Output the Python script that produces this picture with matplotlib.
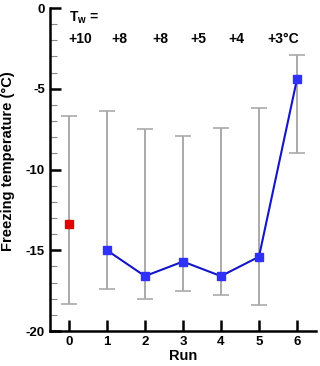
import numpy as np
import matplotlib.pyplot as plt
from matplotlib.ticker import MultipleLocator

plt.rcParams['font.family'] = ['Liberation Sans', 'DejaVu Sans']
plt.rcParams['font.weight'] = 'bold'
plt.rcParams['axes.unicode_minus'] = False

runs = [0, 1, 2, 3, 4, 5, 6]
temp = [-13.4, -15.0, -16.6, -15.7, -16.6, -15.4, -4.4]
upper = [-6.7, -6.4, -7.5, -7.9, -7.4, -6.2, -2.9]
lower = [-18.3, -17.4, -18.0, -17.5, -17.8, -18.4, -9.0]
tw_labels = ['+10', '+8', '+8', '+5', '+4', '+3°C']
tw_pos = [0.30, 1.33, 2.40, 3.40, 4.40, 5.64]

temp = np.array(temp)
yerr = [temp - np.array(lower), np.array(upper) - temp]

fig = plt.figure(figsize=(3.2, 3.66), dpi=100)
ax = fig.add_axes([0.156, 0.0956, 0.8315, 0.8824])

ax.errorbar(runs, temp, yerr=yerr, fmt='none', ecolor='#aaaaaa', elinewidth=1.4,
            capsize=6, capthick=1.2, zorder=1)
ax.plot(runs[1:], temp[1:], '-', color='#1515c8', lw=1.5, zorder=2)
ax.plot(runs[1:], temp[1:], 's', color='#3030ff', ms=5.5, zorder=3)
ax.plot(runs[:1], temp[:1], 's', color='#e00000', ms=5.5, zorder=3)

ax.text(0.01, -0.6, r'T$_\mathregular{w}$ =', fontsize=10, fontweight='bold', va='center', ha='left')
for p, t in zip(tw_pos, tw_labels):
    ax.text(p, -1.9, t, fontsize=10, fontweight='bold', va='center', ha='center')

ax.set_xlim(-0.5, 6.5)
ax.set_ylim(-20, 0)
ax.set_xticks(runs)
ax.set_yticks([0, -5, -10, -15, -20])
ax.yaxis.set_minor_locator(MultipleLocator(1))
ax.spines['top'].set_visible(False)
ax.spines['right'].set_visible(False)
ax.spines['left'].set_linewidth(1.8)
ax.spines['bottom'].set_linewidth(1.8)
ax.tick_params(axis='both', which='major', direction='in', length=8, width=1.8, labelsize=9.5)
ax.tick_params(axis='y', which='minor', direction='in', length=5, width=0.8, color='#888888')
for lbl in ax.get_xticklabels() + ax.get_yticklabels():
    lbl.set_fontweight('bold')
ax.set_xlabel('Run', fontsize=10.5, fontweight='bold', labelpad=1)
ax.set_ylabel('Freezing temperature (°C)', fontsize=10.5, fontweight='bold')
ax.yaxis.set_label_coords(-0.13, 0.525)

fig.savefig('out.png', dpi=100)
